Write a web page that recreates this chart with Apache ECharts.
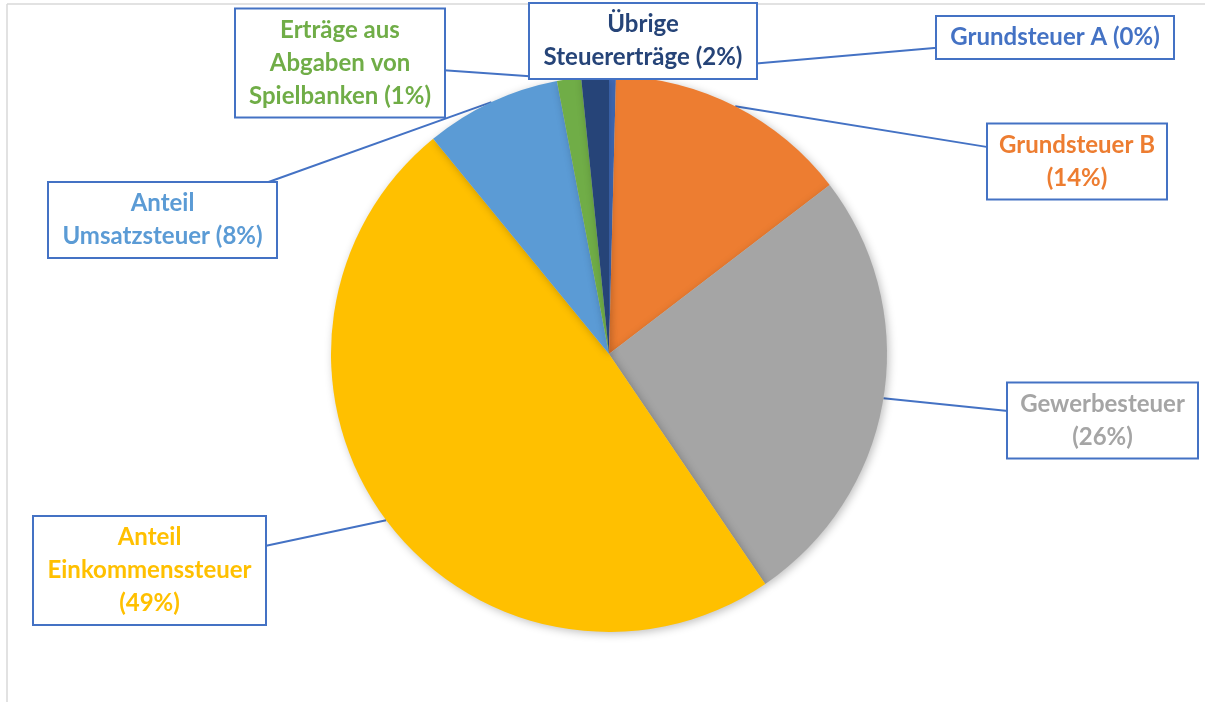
<!DOCTYPE html>
<html>
<head>
<meta charset="utf-8">
<script src="https://cdn.jsdelivr.net/npm/echarts@6/dist/echarts.min.js"></script>
<style>
  html, body { margin: 0; padding: 0; background: #fff; }
  #main { width: 1205px; height: 702px; }
</style>
</head>
<body>
<div id="main"></div>
<script>
// Steuererträge, Anteile in Prozent (aus dem Bild geschätzt)
var categories = ['Grundsteuer A', 'Grundsteuer B', 'Gewerbesteuer', 'Anteil Einkommenssteuer',
                  'Anteil Umsatzsteuer', 'Erträge aus Abgaben von Spielbanken', 'Übrige Steuererträge'];
var values = [0.4, 14.2, 25.9, 48.6, 7.9, 1.4, 1.6];
// Zeilenumbrüche der Beschriftungen
var labelText = ['Grundsteuer A ', 'Grundsteuer B\n', 'Gewerbesteuer\n', 'Anteil\nEinkommenssteuer\n',
                 'Anteil\nUmsatzsteuer ', 'Erträge aus\nAbgaben von\nSpielbanken ', 'Übrige\nSteuererträge '];
var colors = ['#4472C4', '#ED7D31', '#A5A5A5', '#FFC000', '#5B9BD5', '#70AD47', '#264478'];

// Lage der Beschriftungskästen: Mitte x, Mitte y, Breite, Höhe
var boxes = [
    [1055, 37.5, 236, 41],
    [1077, 161.5, 178, 73],
    [1102.5, 420.5, 189, 75],
    [149.5, 570.5, 231, 107],
    [162.5, 220, 227, 74],
    [340, 63, 208, 106],
    [643, 41, 226, 72]
];

function edgePoint(p, b) {
    // Schnittpunkt der Linie vom Ansatzpunkt zur Kastenmitte mit dem Kastenrand
    var dx = b[0] - p[0], dy = b[1] - p[1];
    var hw = b[2] / 2, hh = b[3] / 2;
    var tx = dx !== 0 ? Math.abs((Math.abs(dx) - hw) / dx) : 1;
    var ty = dy !== 0 ? Math.abs((Math.abs(dy) - hh) / dy) : 1;
    if (Math.abs(dx) <= hw) tx = 0;
    if (Math.abs(dy) <= hh) ty = 0;
    var t = Math.max(tx, ty);
    return [p[0] + dx * t, p[1] + dy * t];
}

var chart = echarts.init(document.getElementById('main'));

var seriesData = [];
for (var i = 0; i < categories.length; i++) {
    seriesData.push({
        name: categories[i],
        value: values[i],
        itemStyle: { color: colors[i] },
        label: { color: colors[i], width: boxes[i][2] - 4 }
    });
}

var option = {
    animation: false,
    graphic: [
        { type: 'line', shape: { x1: 7, y1: 4, x2: 1205, y2: 4 }, style: { stroke: '#d9d9d9', lineWidth: 1.5 } },
        { type: 'line', shape: { x1: 7, y1: 4, x2: 7, y2: 702 }, style: { stroke: '#d9d9d9', lineWidth: 1.5 } }
    ],
    series: [
        {
            type: 'pie',
            center: [609, 354],
            radius: 278,
            startAngle: 90,
            clockwise: true,
            data: seriesData,
            itemStyle: {
                borderWidth: 0,
                shadowBlur: 8,
                shadowColor: 'rgba(0,0,0,0.25)',
                shadowOffsetX: 2,
                shadowOffsetY: 2
            },
            label: {
                show: true,
                position: 'outside',
                fontFamily: 'Lato',
                fontWeight: 'bold',
                fontSize: 24,
                lineHeight: 33,
                align: 'center',
                backgroundColor: '#fff',
                borderColor: '#4472C4',
                borderWidth: 2,
                padding: [4, 2],
                formatter: function (p) {
                    return labelText[p.dataIndex] + '(' + Math.round(p.percent) + '%)';
                }
            },
            labelLine: {
                show: true,
                lineStyle: { color: '#4472C4', width: 2 }
            },
            labelLayout: function (params) {
                var b = boxes[params.dataIndex];
                var anchor = params.labelLinePoints[0];
                var e = edgePoint(anchor, b);
                return {
                    x: b[0],
                    y: b[1],
                    align: 'center',
                    verticalAlign: 'middle',
                    labelLinePoints: [anchor, e, e]
                };
            }
        }
    ]
};
chart.setOption(option);
</script>
</body>
</html>
